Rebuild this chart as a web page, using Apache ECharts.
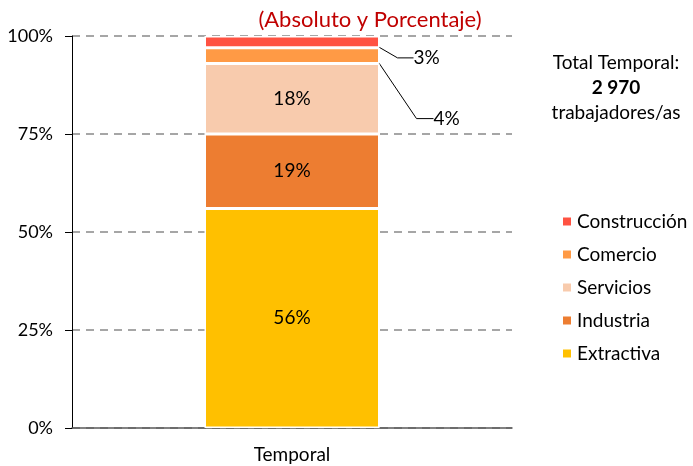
<!DOCTYPE html>
<html>
<head>
<meta charset="utf-8">
<script src="https://cdn.jsdelivr.net/npm/echarts@6/dist/echarts.min.js"></script>
<style>
  html, body { margin: 0; padding: 0; background: #fff; }
  #main { width: 693px; height: 466px; }
</style>
</head>
<body>
<div id="main"></div>
<script>
var categories = ['Temporal'];
var sectors = ['Extractiva', 'Industria', 'Servicios', 'Comercio', 'Construcción'];
var shares = [56, 19, 18, 4, 3];
var colors = ['#FFC000', '#ED7D31', '#F8CBAD', '#FF9A45', '#FF5242'];
var yTicks = [0, 25, 50, 75, 100];
var totalLabel = 'Total Temporal:';
var totalValue = '2 970';
var totalUnit = 'trabajadores/as';

var font = 'Lato';
var chart = echarts.init(document.getElementById('main'));

var series = sectors.map(function (name, i) {
  var s = {
    name: name,
    type: 'bar',
    stack: 'total',
    barWidth: 175,
    data: [shares[i]],
    itemStyle: { color: colors[i], borderColor: '#fff', borderWidth: 1.5 },
    label: {
      show: true,
      position: 'inside',
      formatter: '{c}%',
      color: '#000',
      fontFamily: font,
      fontSize: 19
    }
  };
  // small segments: labels pulled out to the right with a leader line
  if (name === 'Construcción') {
    s.label.position = 'right';
    s.labelLayout = { dx: 29, dy: 16 };
    s.labelLine = { show: true, length2: 16, lineStyle: { color: '#000', width: 1 } };
  }
  if (name === 'Comercio') {
    s.label.position = 'right';
    s.labelLayout = { dx: 49, dy: 63 };
    s.labelLine = { show: true, length2: 17, lineStyle: { color: '#000', width: 1 } };
  }
  return s;
});

var option = {
  backgroundColor: '#fff',
  animation: false,
  title: {
    text: '(Absoluto y Porcentaje)',
    left: 365,
    textAlign: 'center',
    top: 4,
    textStyle: { color: '#C00000', fontFamily: font, fontSize: 22, fontWeight: 'normal' }
  },
  legend: {
    data: sectors.slice().reverse(),
    orient: 'vertical',
    left: 556,
    top: 207,
    itemWidth: 10,
    itemHeight: 10,
    itemGap: 14,
    icon: 'rect',
    textStyle: { fontFamily: font, fontSize: 19, color: '#000' }
  },
  grid: { left: 72, right: 181, top: 36, bottom: 38 },
  xAxis: {
    type: 'category',
    data: categories,
    axisLine: { lineStyle: { color: '#595959', width: 1.5 } },
    axisTick: { show: false },
    axisLabel: { fontFamily: font, fontSize: 19, color: '#000', margin: 17 }
  },
  yAxis: {
    type: 'value',
    min: 0,
    max: 100,
    interval: 25,
    axisLine: { show: true, lineStyle: { color: '#000', width: 1 } },
    axisTick: { show: true, length: 7, lineStyle: { color: '#000' } },
    axisLabel: {
      fontFamily: font, fontSize: 18, color: '#000', margin: 19,
      formatter: function (v) { return yTicks.indexOf(v) >= 0 ? v + '%' : ''; }
    },
    splitLine: { lineStyle: { color: '#A6A6A6', type: [8, 6], width: 2 } }
  },
  graphic: [{
    type: 'text',
    x: 616,
    y: 50,
    style: {
      text: '{a|' + totalLabel + '}\n{b|' + totalValue + '}\n{a|' + totalUnit + '}',
      align: 'center',
      rich: {
        a: { fontFamily: font, fontSize: 19, color: '#000', lineHeight: 25, align: 'center' },
        b: { fontFamily: font, fontSize: 19, fontWeight: 'bold', color: '#000', lineHeight: 25, align: 'center' }
      }
    }
  }],
  series: series
};

chart.setOption(option);
</script>
</body>
</html>
